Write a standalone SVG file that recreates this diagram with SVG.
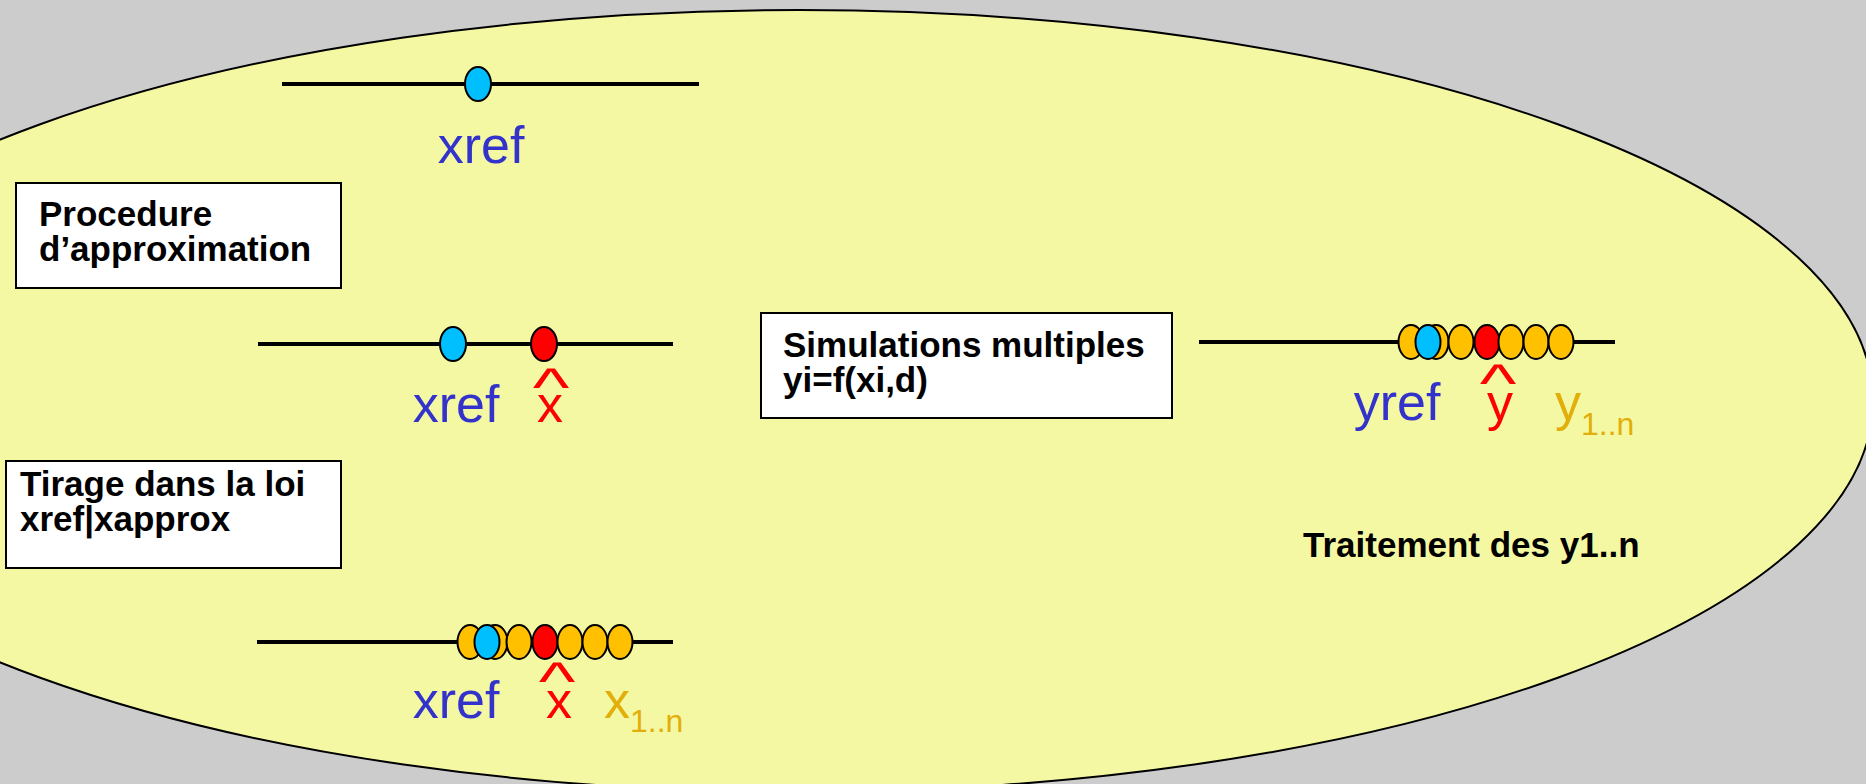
<svg xmlns="http://www.w3.org/2000/svg" width="1866" height="784" viewBox="0 0 1866 784">
  <style>
    .axis { stroke: #000; stroke-width: 4; }
    .dot { stroke: #000; stroke-width: 2; }
    .ref { fill: #00BFFF; }
    .est { fill: #FF0000; }
    .sim { fill: #FFC000; }
    .box { fill: #FFFFFF; stroke: #000; stroke-width: 2; }
    .bold { font-family: "Liberation Sans", Arial, sans-serif; font-weight: bold; font-size: 35px; fill: #000; }
    .lbl { font-family: "Liberation Sans", Arial, sans-serif; font-size: 52px; }
    .hat { font-family: "Liberation Sans", Arial, sans-serif; font-size: 78px; fill: #FF0000; }
    .sub { font-family: "Liberation Sans", Arial, sans-serif; font-size: 32px; }
    .blue { fill: #3333CC; }
    .red { fill: #FF0000; }
    .gold { fill: #E2AE0A; }
  </style>

  <!-- background -->
  <rect x="0" y="0" width="1866" height="784" fill="#CCCCCC"/>

  <!-- the large yellow region -->
  <g id="region">
    <ellipse cx="799" cy="401" rx="1074" ry="391" fill="#F5F8A2" stroke="#000" stroke-width="2"/>
  </g>

  <!-- row 1: reference value -->
  <g id="row-ref">
    <line class="axis" x1="282" y1="84" x2="699" y2="84"/>
    <ellipse class="dot ref" cx="478" cy="84" rx="13" ry="17"/>
    <text class="lbl blue" x="481" y="163" text-anchor="middle">xref</text>
  </g>

  <!-- step box: approximation -->
  <g id="box-approx">
    <rect class="box" x="16" y="183" width="325" height="105"/>
    <text class="bold" x="39" y="226">Procedure</text>
    <text class="bold" x="39" y="261">d’approximation</text>
  </g>

  <!-- row 2: reference and approximation -->
  <g id="row-approx">
    <line class="axis" x1="258" y1="344" x2="673" y2="344"/>
    <ellipse class="dot ref" cx="453" cy="344" rx="13" ry="17"/>
    <ellipse class="dot est" cx="544" cy="344" rx="13" ry="17"/>
    <text class="lbl blue" x="456" y="422" text-anchor="middle">xref</text>
    <text class="lbl red" x="550" y="422" text-anchor="middle">x</text>
    <text class="hat" text-anchor="middle" transform="translate(551 406) scale(1 0.7)">^</text>
  </g>

  <!-- step box: sampling -->
  <g id="box-sampling">
    <rect class="box" x="6" y="461" width="335" height="107"/>
    <text class="bold" x="20" y="496">Tirage dans la loi</text>
    <text class="bold" x="20" y="531">xref|xapprox</text>
  </g>

  <!-- row 3: sampled values -->
  <g id="row-sample">
    <line class="axis" x1="257" y1="642" x2="673" y2="642"/>
    <ellipse class="dot sim" cx="470" cy="642" rx="12.5" ry="17"/>
    <ellipse class="dot sim" cx="495" cy="642" rx="12.5" ry="17"/>
    <ellipse class="dot ref" cx="487" cy="642" rx="12.5" ry="17"/>
    <ellipse class="dot sim" cx="519" cy="642" rx="12.5" ry="17"/>
    <ellipse class="dot est" cx="545" cy="642" rx="12.5" ry="17"/>
    <ellipse class="dot sim" cx="570" cy="642" rx="12.5" ry="17"/>
    <ellipse class="dot sim" cx="595" cy="642" rx="12.5" ry="17"/>
    <ellipse class="dot sim" cx="620" cy="642" rx="12.5" ry="17"/>
    <text class="lbl blue" x="456" y="718" text-anchor="middle">xref</text>
    <text class="lbl red" x="559" y="718" text-anchor="middle">x</text>
    <text class="hat" text-anchor="middle" transform="translate(557 700) scale(1 0.7)">^</text>
    <text class="lbl gold" x="604" y="718">x<tspan class="sub" dy="14">1..n</tspan></text>
  </g>

  <!-- step box: simulations -->
  <g id="box-simulations">
    <rect class="box" x="761" y="313" width="411" height="105"/>
    <text class="bold" x="783" y="357">Simulations multiples</text>
    <text class="bold" x="783" y="392">yi=f(xi,d)</text>
  </g>

  <!-- row 4: simulated outputs -->
  <g id="row-output">
    <line class="axis" x1="1199" y1="342" x2="1615" y2="342"/>
    <ellipse class="dot sim" cx="1411" cy="342" rx="12.5" ry="17"/>
    <ellipse class="dot sim" cx="1436" cy="342" rx="12.5" ry="17"/>
    <ellipse class="dot ref" cx="1428" cy="342" rx="12.5" ry="17"/>
    <ellipse class="dot sim" cx="1461" cy="342" rx="12.5" ry="17"/>
    <ellipse class="dot est" cx="1487" cy="342" rx="12.5" ry="17"/>
    <ellipse class="dot sim" cx="1511" cy="342" rx="12.5" ry="17"/>
    <ellipse class="dot sim" cx="1536" cy="342" rx="12.5" ry="17"/>
    <ellipse class="dot sim" cx="1561" cy="342" rx="12.5" ry="17"/>
    <text class="lbl blue" x="1397" y="420" text-anchor="middle">yref</text>
    <text class="lbl red" x="1500" y="420" text-anchor="middle">y</text>
    <text class="hat" text-anchor="middle" transform="translate(1498 402) scale(1 0.7)">^</text>
    <text class="lbl gold" x="1555" y="420">y<tspan class="sub" dy="15">1..n</tspan></text>
  </g>

  <!-- step label: post-processing -->
  <g id="label-treatment">
    <text class="bold" x="1303" y="557">Traitement des y1..n</text>
  </g>

  <g id="connectors"/>
</svg>
